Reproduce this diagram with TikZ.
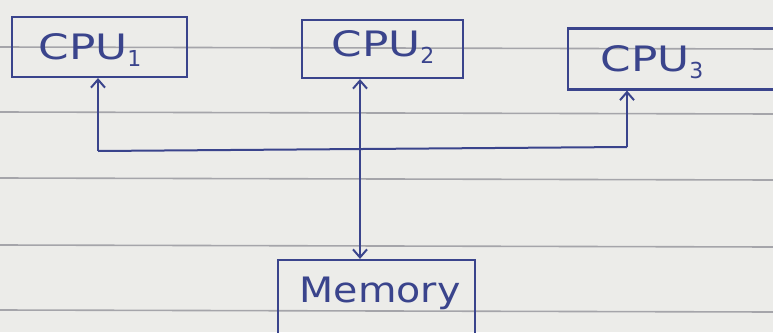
\documentclass[tikz,border=0pt]{standalone}
\usepackage{graphicx}
\usepackage{fontspec}
\setsansfont{DejaVu Sans}
\usetikzlibrary{arrows.meta}
\definecolor{paper}{RGB}{236,236,233}
\definecolor{rule}{RGB}{165,165,170}
\definecolor{ink}{RGB}{58,68,140}
\tikzset{
  box/.style={draw=ink, line width=2.2pt, inner sep=0pt},
  lbl/.style={text=ink, font=\sffamily\fontsize{35}{35}\selectfont, inner sep=0pt, anchor=center},
  wire/.style={draw=ink, line width=2pt},
  tip/.style={-{Straight Barb[length=8pt,width=14pt,line width=2pt]}},
  bothtips/.style={{Straight Barb[length=8pt,width=14pt,line width=2pt]}-{Straight Barb[length=8pt,width=14pt,line width=2pt]}},
  ruling/.style={draw=rule, line width=1.6pt}
}
\newcommand{\lowidx}[1]{\raisebox{-0.35ex}{\fontsize{22}{22}\selectfont #1}}
\newcommand{\wide}[1]{\scalebox{1.25}[1]{#1}}
\begin{document}
\begin{tikzpicture}[x=1pt,y=-1pt]
  \clip (0,0) rectangle (773,332);
  \fill[paper] (0,0) rectangle (773,332);
  % ruled notebook lines
  \foreach \y in {47,112,178,245,310}
    \draw[ruling] (0,\y) -- (773,\y+2);

  % boxes
  \node[box, minimum width=175pt, minimum height=60pt] (cpu1) at (99.5,47) {};
  \node[box, minimum width=161pt, minimum height=58pt] (cpu2) at (382.5,49) {};
  \node[box, minimum width=222pt, minimum height=61pt] (cpu3) at (679,59) {};
  \node[box, minimum width=197pt, minimum height=85pt] (mem) at (376.5,302.5) {};

  % labels
  \node[lbl] (t1) at (90,50) {\wide{CPU}\lowidx{1}};
  \node[lbl] (t2) at (383,47) {\wide{CPU}\lowidx{2}};
  \node[lbl] (t3) at (652,62) {\wide{CPU}\lowidx{3}};
  \node[lbl] (t4) at (380,293) {\scalebox{1.13}[1]{Memory}};

  % bus
  \coordinate (bl) at (98,151);
  \coordinate (br) at (627,147);
  \coordinate (j) at (360,149);
  \draw[wire] (bl) -- (br);
  \draw[wire, tip] (bl) -- (bl |- cpu1.south);
  \draw[wire, tip] (br) -- (br |- cpu3.south);
  \draw[wire, bothtips] (j |- cpu2.south) -- (j |- mem.north);
\end{tikzpicture}
\end{document}
